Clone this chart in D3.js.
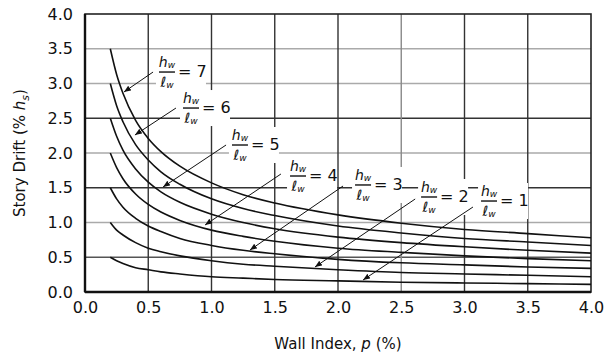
<!DOCTYPE html>
<html><head><meta charset="utf-8">
<script src="https://cdn.jsdelivr.net/npm/d3@7"></script>
<style>
body{margin:0;background:#fff;}
svg{display:block;font-family:"DejaVu Sans",Arial,sans-serif;}
</style></head><body>
<svg id="chart" width="607" height="356"></svg>
<script>
// ---- data ----
const wallIndex = [0.2,0.25,0.3,0.4,0.5,0.6,0.75,1.0,1.25,1.5,2.0,2.5,3.0,3.5,4.0];
const ratio1 = [0.50,0.45,0.41,0.35,0.32,0.29,0.26,0.22,0.20,0.18,0.16,0.14,0.13,0.12,0.11];
const ratio2 = [1.00,0.89,0.82,0.71,0.63,0.58,0.52,0.45,0.40,0.37,0.32,0.28,0.26,0.24,0.22];
const ratio3 = [1.50,1.34,1.22,1.06,0.95,0.87,0.77,0.67,0.60,0.55,0.47,0.42,0.39,0.36,0.34];
const ratio4 = [2.00,1.79,1.63,1.41,1.26,1.15,1.03,0.89,0.80,0.73,0.63,0.57,0.52,0.48,0.45];
const ratio5 = [2.50,2.24,2.04,1.77,1.58,1.44,1.29,1.12,1.00,0.91,0.79,0.71,0.65,0.60,0.56];
const ratio6 = [3.00,2.68,2.45,2.12,1.90,1.73,1.55,1.34,1.20,1.10,0.95,0.85,0.77,0.72,0.67];
const ratio7 = [3.50,3.13,2.86,2.47,2.21,2.02,1.81,1.57,1.40,1.28,1.11,0.99,0.90,0.84,0.78];
const ratioNames = ["1","2","3","4","5","6","7"];
const seriesValues = [ratio1,ratio2,ratio3,ratio4,ratio5,ratio6,ratio7];
const xTicks = [0,0.5,1.0,1.5,2.0,2.5,3.0,3.5,4.0];
const yTicks = [0,0.5,1.0,1.5,2.0,2.5,3.0,3.5,4.0];
const xTitle = "Wall Index, ";
const yTitle = "Story Drift (% ";

// ---- layout ----
const W = 607, H = 356;
const margin = {left:85, right:16, top:14, bottom:64};
// annotation placement (data units): label bar centre, leader start, arrow tip
const labelLayout = {
  "7": {lx:0.648, ly:3.165, sx:0.538, sy:3.165, tx:0.308, ty:2.878},
  "6": {lx:0.838, ly:2.647, sx:0.719, sy:2.647, tx:0.395, ty:2.259},
  "5": {lx:1.225, ly:2.115, sx:1.115, sy:2.115, tx:0.617, ty:1.511},
  "4": {lx:1.684, ly:1.669, sx:1.549, sy:1.698, tx:0.949, ty:0.964},
  "3": {lx:2.198, ly:1.540, sx:2.040, sy:1.525, tx:1.304, ty:0.604},
  "2": {lx:2.720, ly:1.367, sx:2.610, sy:1.338, tx:1.818, ty:0.360},
  "1": {lx:3.194, ly:1.309, sx:3.067, sy:1.223, tx:2.198, ty:0.173}
};
const gridDarkY = {0.5:"#555",1.5:"#333",2.5:"#333"};
const gridDarkX = {2.5:"#888"};

const svg = d3.select("#chart");
const x = d3.scaleLinear().domain([0,4]).range([margin.left, W-margin.right]);
const y = d3.scaleLinear().domain([0,4]).range([H-margin.bottom, margin.top]);

// grid
const g = svg.append("g");
g.selectAll("line.hg").data(yTicks.filter(d=>d>0&&d<4)).join("line")
  .attr("x1",x(0)).attr("x2",x(4)).attr("y1",d=>y(d)).attr("y2",d=>y(d))
  .attr("stroke",d=>gridDarkY[d]||"#aaa").attr("stroke-width",1.6);
g.selectAll("line.vg").data(xTicks.filter(d=>d>0&&d<4)).join("line")
  .attr("y1",y(0)).attr("y2",y(4)).attr("x1",d=>x(d)).attr("x2",d=>x(d))
  .attr("stroke",d=>gridDarkX[d]||"#333").attr("stroke-width",1.4);

// white label backgrounds
const labG = svg.append("g");
ratioNames.forEach(n=>{
  const L = labelLayout[n];
  const cx = x(L.lx), cy = y(L.ly);
  labG.append("rect").attr("x",cx-11).attr("y",cy-18).attr("width",50).attr("height",36).attr("fill","#fff");
});

// frame
svg.append("rect").attr("x",x(0)).attr("y",y(4)).attr("width",x(4)-x(0)).attr("height",y(0)-y(4))
  .attr("fill","none").attr("stroke","#222").attr("stroke-width",1.6);
svg.append("line").attr("x1",x(0)).attr("x2",x(4)).attr("y1",y(0)).attr("y2",y(0)).attr("stroke","#111").attr("stroke-width",2.4);
svg.append("line").attr("x1",x(0)).attr("x2",x(0)).attr("y1",y(0)).attr("y2",y(4)).attr("stroke","#111").attr("stroke-width",2.4);

// curves
const line = d3.line().x(d=>x(d[0])).y(d=>y(d[1])).curve(d3.curveMonotoneX);
svg.append("g").selectAll("path").data(seriesValues).join("path")
  .attr("d",vals=>line(wallIndex.map((p,i)=>[p,vals[i]])))
  .attr("fill","none").attr("stroke","#111").attr("stroke-width",1.6);

// axes
const xAxis = d3.axisBottom(x).tickValues(xTicks).tickFormat(d3.format(".1f")).tickSize(0).tickPadding(10);
const yAxis = d3.axisLeft(y).tickValues(yTicks).tickFormat(d3.format(".1f")).tickSize(0).tickPadding(12);
const gx = svg.append("g").attr("transform",`translate(0,${y(0)})`).call(xAxis);
const gy = svg.append("g").attr("transform",`translate(${x(0)},0)`).call(yAxis);
[gx,gy].forEach(a=>{a.select(".domain").remove();
  a.selectAll("text").attr("font-size",16).attr("fill","#111").attr("font-family","DejaVu Sans, Arial, sans-serif");});

// titles
const xt = svg.append("text").attr("x",(x(0)+x(4))/2).attr("y",349).attr("text-anchor","middle")
  .attr("font-size",15).attr("fill","#111");
xt.append("tspan").text(xTitle);
xt.append("tspan").attr("font-style","italic").text("p");
xt.append("tspan").text(" (%)");
const yt = svg.append("text").attr("transform",`translate(25,${(y(0)+y(4))/2}) rotate(-90)`)
  .attr("text-anchor","middle").attr("font-size",15).attr("fill","#111");
yt.append("tspan").text(yTitle);
yt.append("tspan").attr("font-style","italic").text("h");
yt.append("tspan").attr("font-size",11).attr("dy",4).attr("font-style","italic").text("s");
yt.append("tspan").attr("dy",-4).text(")");

// arrow marker
svg.append("defs").append("marker").attr("id","arr").attr("viewBox","0 0 10 10")
  .attr("refX",10).attr("refY",5).attr("markerWidth",7).attr("markerHeight",7)
  .attr("orient","auto").attr("markerUnits","userSpaceOnUse")
  .append("path").attr("d","M0,1 L10,5 L0,9 Z").attr("fill","#111");

// labels
ratioNames.forEach(n=>{
  const L = labelLayout[n];
  const cx = x(L.lx), cy = y(L.ly);
  svg.append("line").attr("x1",x(L.sx)).attr("y1",y(L.sy)).attr("x2",x(L.tx)).attr("y2",y(L.ty))
    .attr("stroke","#111").attr("stroke-width",1).attr("marker-end","url(#arr)");
  const t1 = svg.append("text").attr("x",cx).attr("y",cy-5).attr("text-anchor","middle")
    .attr("font-size",14).attr("font-style","italic").attr("fill","#111");
  t1.append("tspan").text("h");
  t1.append("tspan").attr("font-size",9).attr("dy",1).text("w");
  svg.append("line").attr("x1",cx-8).attr("x2",cx+8).attr("y1",cy).attr("y2",cy).attr("stroke","#111").attr("stroke-width",1.4);
  const t2 = svg.append("text").attr("x",cx).attr("y",cy+15).attr("text-anchor","middle")
    .attr("font-size",14).attr("font-style","italic").attr("fill","#111");
  t2.append("tspan").text("ℓ");
  t2.append("tspan").attr("font-size",9).attr("dy",1).text("w");
  svg.append("text").attr("x",cx+11).attr("y",cy+5).attr("font-size",16).attr("fill","#111").text("= " + n);
});
</script>
</body></html>
